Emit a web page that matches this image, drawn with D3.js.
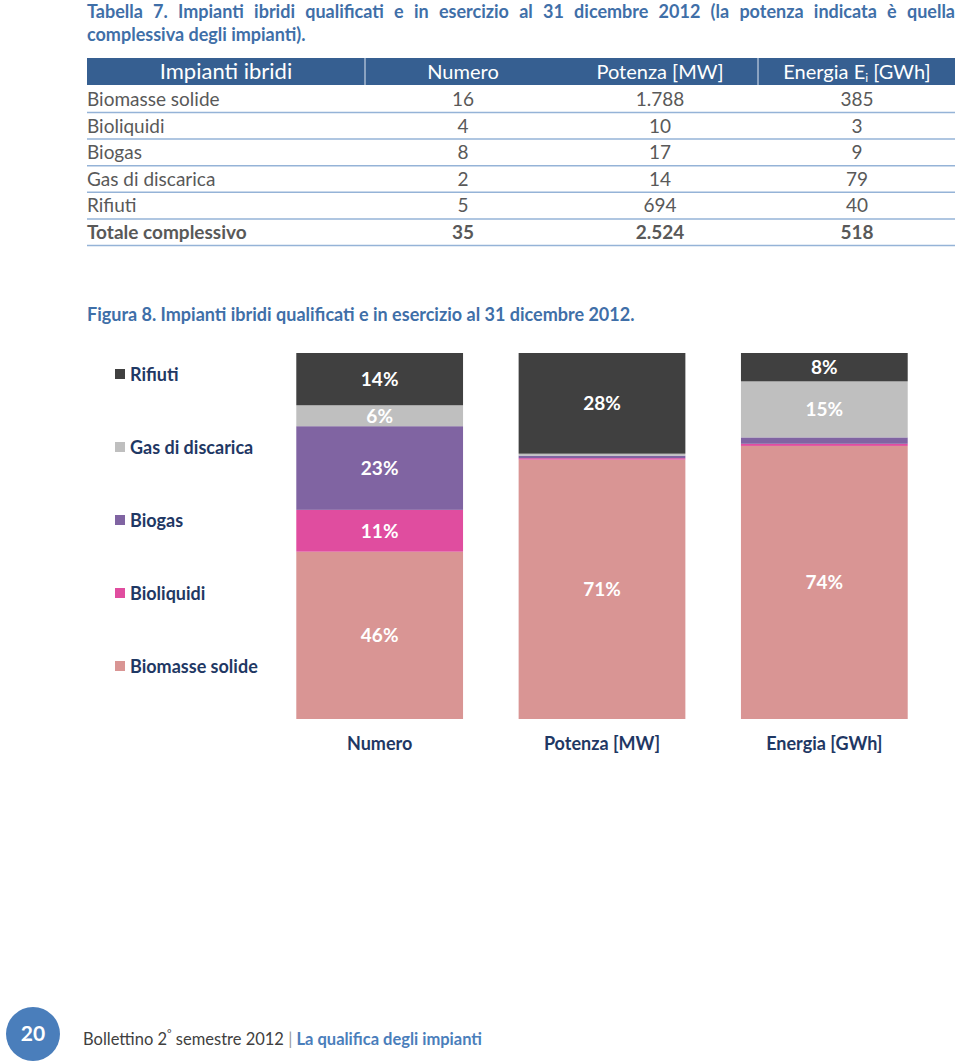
<!DOCTYPE html>
<html><head><meta charset="utf-8">
<script src="https://cdn.jsdelivr.net/npm/d3@7"></script>
<style>
html,body{margin:0;padding:0;background:#fff;}
svg{display:block;}
</style></head>
<body>
<svg id="c" width="960" height="1062"></svg>
<script>
// ---- data ----
const categories = ["Biomasse solide","Bioliquidi","Biogas","Gas di discarica","Rifiuti"];
const numero = [16,4,8,2,5];
const potenza = [1788,10,17,14,694];
const energia = [385,3,9,79,40];
const totals = ["35","2.524","518"];
const potenzaText = ["1.788","10","17","14","694"];
const measures = ["Numero","Potenza [MW]","Energia [GWh]"];
const pctLabels = {
  "Numero":        ["46%","11%","23%","6%","14%"],
  "Potenza [MW]":  ["71%","","","","28%"],
  "Energia [GWh]": ["74%","","","15%","8%"]
};
const colors = ["#d99594","#e04d9f","#8064a2","#bfbfbf","#404040"];

const svg = d3.select("#c");
const FONT = "Lato, 'Open Sans', sans-serif";
const blue = "#3f6fa8";
const navy = "#1f3864";
const grey = "#595959";

// ---- table title (justified line) ----
const t1 = svg.append("text").attr("x",87).attr("y",18).attr("font-family",FONT).attr("font-weight",700)
  .attr("font-size",18).attr("fill",blue)
  .text("Tabella 7. Impianti ibridi qualificati e in esercizio al 31 dicembre 2012 (la potenza indicata è quella");
{
  const len = t1.node().getComputedTextLength();
  const spaces = (t1.text().match(/ /g)||[]).length;
  t1.attr("word-spacing", Math.max(0,(868-len)/spaces));
}
svg.append("text").attr("x",87).attr("y",41).attr("font-family",FONT).attr("font-weight",700)
  .attr("font-size",18).attr("fill",blue).text("complessiva degli impianti).");

// ---- table ----
const colX = d3.scalePoint().domain(["Numero","Potenza [MW]","Energia Ei [GWh]"]).range([463,857]);
svg.append("rect").attr("x",87).attr("y",58).attr("width",868).attr("height",27).attr("fill","#365f91");
[365,758].forEach(x=>svg.append("line").attr("x1",x).attr("x2",x).attr("y1",58).attr("y2",85)
  .attr("stroke","#dfe7f1").attr("stroke-width",1));
svg.append("text").attr("x",226).attr("y",79).attr("text-anchor","middle").attr("font-family",FONT)
  .attr("font-size",22).attr("fill","#fff").text("Impianti ibridi");
svg.append("text").attr("x",colX("Numero")).attr("y",79).attr("text-anchor","middle").attr("font-family",FONT)
  .attr("font-size",20).attr("fill","#fff").text("Numero");
svg.append("text").attr("x",colX("Potenza [MW]")).attr("y",79).attr("text-anchor","middle").attr("font-family",FONT)
  .attr("font-size",20).attr("fill","#fff").text("Potenza [MW]");
const eh = svg.append("text").attr("x",colX("Energia Ei [GWh]")).attr("y",79).attr("text-anchor","middle").attr("font-family",FONT)
  .attr("font-size",20).attr("fill","#fff");
eh.append("tspan").text("Energia E");
eh.append("tspan").attr("font-size",12).attr("dy",3).text("i");
eh.append("tspan").attr("dy",-3).text(" [GWh]");

const rows = categories.map((c,i)=>({label:c, v:[String(numero[i]), potenzaText[i], String(energia[i])], bold:false}));
rows.push({label:"Totale complessivo", v:totals, bold:true});
const rowY = d3.scaleLinear().domain([0,1]).range([106,132.6]);
const colKeys = colX.domain();
rows.forEach((r,i)=>{
  const y = rowY(i);
  svg.append("text").attr("x",87).attr("y",y).attr("font-family",FONT).attr("font-size",19)
    .attr("font-weight",r.bold?700:400).attr("fill",grey).text(r.label);
  r.v.forEach((t,j)=>svg.append("text").attr("x",colX(colKeys[j])).attr("y",y).attr("text-anchor","middle")
    .attr("font-family",FONT).attr("font-size",19).attr("font-weight",r.bold?700:400).attr("fill",grey).text(t));
  svg.append("line").attr("x1",87).attr("x2",955).attr("y1",y+6.5).attr("y2",y+6.5)
    .attr("stroke","#95b3d7").attr("stroke-width",1.5);
});

// ---- figure title ----
svg.append("text").attr("x",87).attr("y",321).attr("font-family",FONT).attr("font-weight",700)
  .attr("font-size",18).attr("fill",blue)
  .text("Figura 8. Impianti ibridi qualificati e in esercizio al 31 dicembre 2012.");

// ---- stacked 100% bars ----
const table = measures.map((m,j)=>{
  const src = [numero,potenza,energia][j];
  const o = {measure:m};
  categories.forEach((c,i)=>o[c]=src[i]);
  return o;
});
const stack = d3.stack().keys(categories).offset(d3.stackOffsetExpand);
const series = stack(table);
const x = d3.scaleBand().domain(measures).range([268.5,935.5]).paddingInner(0.25).paddingOuter(0.125);
const y = d3.scaleLinear().domain([0,1]).range([719,353]);
const color = d3.scaleOrdinal().domain(categories).range(colors);

const g = svg.append("g");
series.forEach((s,si)=>{
  g.selectAll(null).data(s).enter().append("rect")
    .attr("x",d=>x(d.data.measure)).attr("width",x.bandwidth())
    .attr("y",d=>y(d[1])).attr("height",d=>y(d[0])-y(d[1]))
    .attr("fill",color(s.key));
  g.selectAll(null).data(s).enter().append("text")
    .attr("x",d=>x(d.data.measure)+x.bandwidth()/2)
    .attr("y",d=>(y(d[0])+y(d[1]))/2+7)
    .attr("text-anchor","middle").attr("font-family",FONT).attr("font-weight",700)
    .attr("font-size",19).attr("fill","#fff")
    .text(d=>pctLabels[d.data.measure][si]);
});

// category axis labels
const xAxis = d3.axisBottom(x).tickSize(0).tickPadding(0);
const ax = svg.append("g").attr("transform","translate(0,736)").call(xAxis);
ax.select(".domain").remove();
ax.selectAll("text").attr("font-family",FONT).attr("font-weight",700).attr("font-size",18)
  .attr("fill",navy).attr("dy","0.8em");

// ---- legend ----
const legY = d3.scalePoint().domain(categories.slice().reverse()).range([375,667]);
const leg = svg.append("g");
categories.forEach(c=>{
  leg.append("rect").attr("x",115).attr("y",legY(c)-6).attr("width",10).attr("height",10).attr("fill",color(c));
  leg.append("text").attr("x",130).attr("y",legY(c)+6).attr("font-family",FONT).attr("font-weight",700)
    .attr("font-size",18).attr("fill",navy).text(c);
});

// ---- footer ----
svg.append("circle").attr("cx",33).attr("cy",1034).attr("r",27).attr("fill","#4a7ebb");
svg.append("text").attr("x",33).attr("y",1041).attr("text-anchor","middle").attr("font-family",FONT)
  .attr("font-weight",700).attr("font-size",21).attr("fill","#fff").text("20");
const ft = svg.append("text").attr("x",83).attr("y",1045).attr("font-family",FONT).attr("font-size",16.5).attr("fill","#404040");
ft.append("tspan").text("Bollettino 2");
ft.append("tspan").attr("font-size",11).attr("dy",-7).text("°");
ft.append("tspan").attr("dy",7).text(" semestre 2012 ");
ft.append("tspan").attr("fill","#999").text("| ");
ft.append("tspan").attr("fill","#4a7ebb").attr("font-weight",700).text("La qualifica degli impianti");
</script>
</body></html>
